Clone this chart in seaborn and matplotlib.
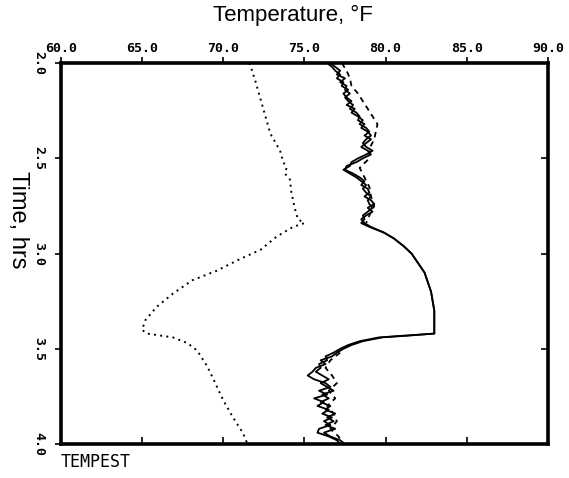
import numpy as np
import pandas as pd
import matplotlib
matplotlib.use("Agg")
import matplotlib.pyplot as plt
import seaborn as sns

# dotted line
dot_time = [2.00, 2.02, 2.10, 2.19, 2.28, 2.37, 2.46, 2.52, 2.55, 2.58, 2.61, 2.68,
            2.76, 2.82, 2.84, 2.86, 2.91, 2.98, 3.03, 3.09, 3.14, 3.21, 3.28, 3.35,
            3.40, 3.42, 3.43, 3.44, 3.47, 3.51, 3.59, 3.66, 3.77, 3.86, 3.94, 4.00]
dot_temp = [71.6, 71.7, 72.0, 72.3, 72.6, 72.9, 73.5, 73.7, 73.9, 73.8, 74.1, 74.2,
            74.4, 74.6, 75.0, 74.3, 73.3, 72.3, 71.0, 69.6, 68.1, 66.9, 65.9, 65.2,
            65.0, 65.3, 66.1, 66.9, 67.8, 68.4, 69.0, 69.4, 70.0, 70.6, 71.2, 71.5]

# solid lines
sol_time = [2.00, 2.02, 2.04, 2.06, 2.08, 2.10, 2.12, 2.14, 2.16, 2.18, 2.20, 2.22,
            2.24, 2.26, 2.28, 2.30, 2.32, 2.34, 2.36, 2.38, 2.40, 2.42, 2.44, 2.46,
            2.48, 2.50, 2.52, 2.54, 2.56, 2.58, 2.60, 2.62, 2.64, 2.66, 2.68, 2.70,
            2.72, 2.74, 2.76, 2.78, 2.80, 2.82, 2.84, 2.86, 2.89, 2.92, 2.96, 3.00,
            3.05, 3.10, 3.15, 3.20, 3.25, 3.30, 3.35, 3.40, 3.42, 3.43, 3.44, 3.46,
            3.48, 3.50, 3.52, 3.54, 3.56, 3.58, 3.60, 3.62, 3.64, 3.66, 3.68, 3.70,
            3.72, 3.74, 3.76, 3.78, 3.80, 3.82, 3.84, 3.86, 3.88, 3.90, 3.92, 3.94,
            3.96, 3.98, 4.00]
sol_a = [76.4, 76.7, 76.9, 77.2, 77.0, 77.4, 77.3, 77.7, 77.4, 77.6, 77.9, 77.6,
         78.1, 77.9, 78.3, 78.6, 78.4, 78.8, 79.0, 78.7, 79.1, 78.8, 78.5, 78.9,
         79.1, 78.6, 78.2, 77.6, 77.5, 78.0, 78.4, 78.7, 78.5, 78.9, 79.0, 78.7,
         79.1, 79.3, 78.9, 79.2, 78.8, 78.5, 78.7, 79.1, 79.9, 80.5, 81.1, 81.6,
         82.0, 82.4, 82.6, 82.8, 82.9, 83.0, 83.0, 83.0, 83.0, 81.5, 79.8, 78.6,
         77.9, 77.4, 77.0, 76.7, 76.0, 76.3, 75.7, 75.5, 75.2, 75.6, 76.3, 76.6,
         75.9, 76.4, 75.6, 76.2, 75.8, 76.5, 76.1, 76.7, 76.2, 76.6, 75.9, 75.8,
         76.5, 77.0, 77.2]
sol_b = [76.6, 76.9, 77.2, 77.0, 77.5, 77.2, 77.6, 77.5, 77.8, 77.5, 77.7, 78.0,
         77.8, 78.2, 78.4, 78.3, 78.7, 78.5, 78.9, 79.1, 78.8, 78.6, 78.8, 79.2,
         78.8, 78.3, 77.9, 77.8, 77.4, 77.8, 78.2, 78.5, 78.8, 78.6, 78.8, 79.1,
         78.9, 79.0, 79.2, 78.9, 78.6, 78.7, 78.5, 79.0, 79.9, 80.5, 81.1, 81.6,
         82.0, 82.4, 82.6, 82.8, 82.9, 83.0, 83.0, 83.0, 83.0, 81.3, 79.6, 78.4,
         77.7, 77.2, 76.8, 76.3, 76.4, 75.9, 76.0, 75.7, 76.1, 76.5, 76.0, 76.4,
         76.8, 76.1, 76.5, 76.0, 76.6, 76.3, 76.9, 76.4, 76.8, 76.3, 76.9, 76.2,
         76.6, 77.2, 77.5]

# dashed line (only where it departs from the solid ones)
dash_time = [2.00, 2.04, 2.08, 2.12, 2.16, 2.20, 2.24, 2.28, 2.32, 2.36, 2.40, 2.45,
             2.50, 2.55, 2.60, 2.65, 2.70, 2.75, 2.80, 2.84]
dash_temp = [77.3, 77.6, 77.8, 77.9, 78.3, 78.6, 78.9, 79.2, 79.5, 79.4, 79.3, 79.0,
             79.0, 78.4, 78.7, 79.0, 79.1, 79.3, 79.0, 78.8]
dash_time2 = [3.52, 3.56, 3.60, 3.64, 3.68, 3.72, 3.76, 3.80, 3.84, 3.88, 3.92, 3.96, 4.00]
dash_temp2 = [77.2, 76.6, 76.3, 76.7, 77.0, 76.5, 76.9, 76.4, 76.8, 77.0, 76.6, 77.1, 77.4]

x_ticks = [60, 65, 70, 75, 80, 85, 90]
y_ticks = [2.0, 2.5, 3.0, 3.5, 4.0]

sns.set_style("white")
plt.rcParams.update({"text.color": "black", "axes.labelcolor": "black",
                     "xtick.color": "black", "ytick.color": "black"})
fig = plt.figure(figsize=(5.69, 4.78), dpi=100)
ax = fig.add_axes([0.107, 0.071, 0.856, 0.797])

sns.lineplot(x=dot_temp, y=dot_time, sort=False, estimator=None, ax=ax,
             color="black", linestyle=(0, (1, 2.2)), linewidth=1.4)
sns.lineplot(x=sol_a, y=sol_time, sort=False, estimator=None, ax=ax,
             color="black", linewidth=1.3)
sns.lineplot(x=sol_b, y=sol_time, sort=False, estimator=None, ax=ax,
             color="black", linewidth=1.3)
sns.lineplot(x=dash_temp, y=dash_time, sort=False, estimator=None, ax=ax,
             color="black", linestyle=(0, (3, 2.5)), linewidth=1.3)
sns.lineplot(x=dash_temp2, y=dash_time2, sort=False, estimator=None, ax=ax,
             color="black", linestyle=(0, (3, 2.5)), linewidth=1.3)

ax.set_xlim(60, 90)
ax.set_ylim(4.0, 2.0)
ax.set_xticks(x_ticks)
ax.set_xticklabels([f"{v:.1f}" for v in x_ticks], family="DejaVu Sans Mono",
                   fontweight="bold", fontsize=9.5, color="black")
ax.set_yticks(y_ticks)
ax.set_yticklabels([f"{v:.1f}" for v in y_ticks], family="DejaVu Sans Mono",
                   fontweight="bold", fontsize=9.5, rotation=-90, va="center",
                   color="black")
ax.xaxis.tick_top()
ax.xaxis.set_label_position("top")
ax.tick_params(axis="x", which="major", top=True, bottom=False, direction="out",
               length=4, width=1.2, pad=2, colors="black")
ax.tick_params(axis="y", which="major", left=True, right=False, direction="out",
               length=4, width=1.2, pad=7, colors="black")

# inward ticks on the opposite sides
ax2 = ax.secondary_xaxis("bottom")
ax2.set_xticks(x_ticks)
ax2.set_xticklabels([])
ax2.tick_params(direction="in", length=5, width=1.2, colors="black")
ax3 = ax.secondary_yaxis("right")
ax3.set_yticks(y_ticks)
ax3.set_yticklabels([])
ax3.tick_params(direction="in", length=5, width=1.2, colors="black")
for a in (ax2, ax3):
    for s in a.spines.values():
        s.set_visible(False)

for s in ax.spines.values():
    s.set_linewidth(2.6)
    s.set_color("black")

ax.set_xlabel("Temperature, °F", family="Liberation Sans", fontsize=16,
              va="center", color="black")
ax.xaxis.set_label_coords(0.476, 1.126)
ax.set_ylabel("Time, hrs", family="Liberation Sans", fontsize=17, rotation=-90,
              va="center", ha="center", color="black")
ax.yaxis.set_label_coords(-0.088, 0.588)
fig.text(0.107, 0.033, "TEMPEST", family="DejaVu Sans Mono", fontsize=12,
         va="center", ha="left", color="black")

fig.savefig("out.png", dpi=100)
